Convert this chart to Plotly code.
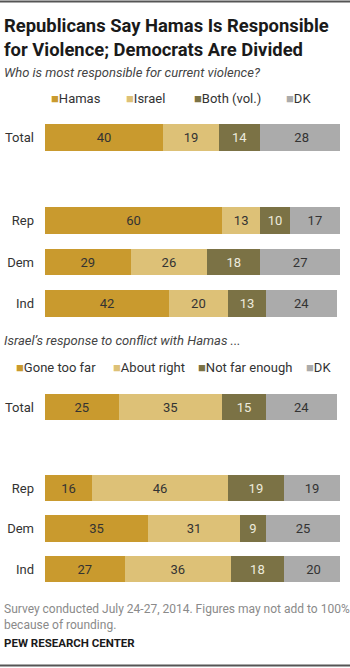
import plotly.graph_objects as go

# ---- data ----
groups = ["Total", "Rep", "Dem", "Ind"]
cat_order = ["Total", " ", "Rep", "Dem", "Ind"]

resp_names = ["Hamas", "Israel", "Both (vol.)", "DK"]
hamas = [40, 60, 29, 42]
israel = [19, 13, 26, 20]
both = [14, 10, 18, 13]
dk1 = [28, 17, 27, 24]

react_names = ["Gone too far", "About right", "Not far enough", "DK"]
gone_too_far = [25, 16, 35, 27]
about_right = [35, 46, 31, 36]
not_far_enough = [15, 19, 9, 18]
dk2 = [24, 19, 25, 20]

title_text = "Republicans Say Hamas Is Responsible<br>for Violence; Democrats Are Divided"
sub1 = "Who is most responsible for current violence?"
sub2 = "Israel\u2019s response to conflict with Hamas ..."
note = "Survey conducted July 24-27, 2014. Figures may not add to 100%<br>because of rounding."
source = "PEW RESEARCH CENTER"

# ---- style ----
colors = ["#C99A2E", "#DDC177", "#7B7245", "#ABABAB"]
text_colors = ["#333333", "#333333", "#EDEBDD", "#333333"]
FONT = "Roboto, Liberation Sans, Arial, sans-serif"
W, H = 350, 668

fig = go.Figure()

def px_y(p):
    return 1 - p / H

def add_block(series, names, xa, ya):
    for vals, name, col, tcol in zip(series, names, colors, text_colors):
        fig.add_trace(go.Bar(
            y=groups, x=vals, name=name, orientation="h",
            marker=dict(color=col, line=dict(width=0)),
            text=vals, texttemplate="%{x}", textposition="inside",
            insidetextanchor="middle",
            textfont=dict(color=tcol, size=13, family=FONT),
            width=0.65, showlegend=False, xaxis=xa, yaxis=ya,
            hoverinfo="skip",
        ))

add_block([hamas, israel, both, dk1], resp_names, "x", "y")
add_block([gone_too_far, about_right, not_far_enough, dk2], react_names, "x2", "y2")

xdom = [45 / W, 340 / W]
common_x = dict(range=[0, 100], showgrid=False, zeroline=False, showticklabels=False,
                fixedrange=True, domain=xdom)
common_y = dict(categoryorder="array", categoryarray=cat_order, autorange="reversed",
                showgrid=False, zeroline=False, ticks="", ticklabelstandoff=10,
                tickfont=dict(size=13, color="#333333", family=FONT))

fig.update_layout(
    width=W, height=H, margin=dict(l=0, r=0, t=0, b=0),
    paper_bgcolor="white", plot_bgcolor="white",
    barmode="stack", bargap=0.35,
    xaxis=dict(**common_x, anchor="y"),
    yaxis=dict(**common_y, domain=[px_y(324.25), px_y(116.75)], anchor="x"),
    xaxis2=dict(**common_x, anchor="y2"),
    yaxis2=dict(**common_y, domain=[px_y(589.25), px_y(386.75)], anchor="x2"),
    font=dict(family=FONT),
)

ann = []
# title
ann.append(dict(text="<b>" + title_text + "</b>", x=2 / W, y=px_y(12.5), xref="paper", yref="paper",
                xanchor="left", yanchor="top", align="left", showarrow=False,
                font=dict(size=18.4, color="#1a1a1a", family=FONT)))
ann.append(dict(text="<i>" + sub1 + "</i>", x=2 / W, y=px_y(73), xref="paper", yref="paper",
                xanchor="left", yanchor="middle", showarrow=False,
                font=dict(size=13, color="#444444", family=FONT)))
ann.append(dict(text="<i>" + sub2 + "</i>", x=2 / W, y=px_y(340), xref="paper", yref="paper",
                xanchor="left", yanchor="middle", showarrow=False,
                font=dict(size=13, color="#444444", family=FONT)))

def legend_row(names, xs, ypx):
    for name, col, xp in zip(names, colors, xs):
        ann.append(dict(text=f"<span style='color:{col}'>\u25A0</span>{name}",
                        x=xp / W, y=px_y(ypx), xref="paper", yref="paper",
                        xanchor="left", yanchor="middle", showarrow=False,
                        font=dict(size=13, color="#333333", family=FONT)))

legend_row(resp_names, [49, 124, 192, 284], 99)
legend_row(react_names, [14, 111, 196, 304], 367)

ann.append(dict(text=note, x=2 / W, y=px_y(600), xref="paper", yref="paper",
                xanchor="left", yanchor="top", align="left", showarrow=False,
                font=dict(size=12, color="#8a8a8a", family=FONT)))
ann.append(dict(text="<b>" + source + "</b>", x=2 / W, y=px_y(643), xref="paper", yref="paper",
                xanchor="left", yanchor="middle", showarrow=False,
                font=dict(size=11.5, color="#1a1a1a", family=FONT)))

fig.update_layout(annotations=ann)
fig.update_layout(shapes=[
    dict(type="line", xref="paper", yref="paper", x0=0, x1=1, y0=px_y(1.5), y1=px_y(1.5),
         line=dict(color="#555555", width=2)),
    dict(type="line", xref="paper", yref="paper", x0=0, x1=1, y0=px_y(665.5), y1=px_y(665.5),
         line=dict(color="#555555", width=2)),
])

fig.write_html("out.html")
